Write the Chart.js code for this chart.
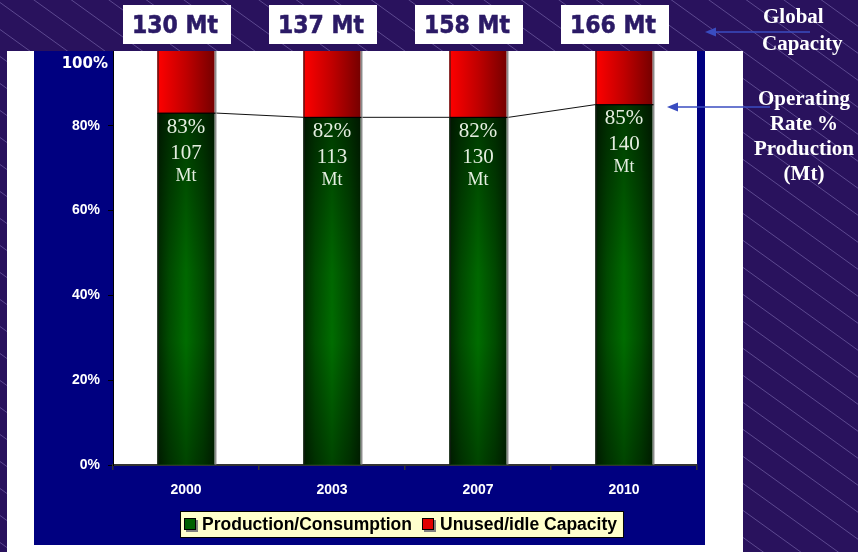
<!DOCTYPE html>
<html>
<head>
<meta charset="utf-8">
<script src="https://cdn.jsdelivr.net/npm/chart.js@4.4.1/dist/chart.umd.min.js"></script>
<style>
  html, body { margin: 0; padding: 0; background: #29125d; }
  canvas { display: block; }
</style>
</head>
<body>
<canvas id="chart" width="858" height="552"></canvas>
<script>
// Global aluminium capacity, production and operating rate by year
const years = ['2000', '2003', '2007', '2010'];
const capacityMt = [130, 137, 158, 166];      // global capacity (Mt)
const productionMt = [107, 113, 130, 140];    // production / consumption (Mt)
const operatingRate = [83, 82, 82, 85];       // operating rate (%)
const idleRate = operatingRate.map(r => 100 - r); // unused / idle share (%)
const seriesNames = ['Production/Consumption', 'Unused/idle Capacity'];

const PURPLE = '#29125d';
const NAVY = '#000080';

function paintStripes(ctx, x, y, w, h) {
  ctx.save();
  ctx.beginPath();
  ctx.rect(x, y, w, h);
  ctx.clip();
  ctx.fillStyle = PURPLE;
  ctx.fillRect(x, y, w, h);
  ctx.strokeStyle = 'rgba(165,150,215,0.42)';
  ctx.lineWidth = 1;
  const slope = 0.72, gap = 27;
  for (let c = -700; c < 600; c += gap) {
    ctx.beginPath();
    ctx.moveTo(0, c + 0.5);
    ctx.lineTo(858, c + 858 * slope + 0.5);
    ctx.stroke();
  }
  ctx.restore();
}

function arrowLeft(ctx, xTail, xHead, y) {
  ctx.save();
  ctx.strokeStyle = '#3a4cc0';
  ctx.fillStyle = '#3a4cc0';
  ctx.lineWidth = 1.5;
  ctx.beginPath();
  ctx.moveTo(xTail, y);
  ctx.lineTo(xHead + 8, y);
  ctx.stroke();
  ctx.beginPath();
  ctx.moveTo(xHead, y);
  ctx.lineTo(xHead + 11, y - 4.5);
  ctx.lineTo(xHead + 11, y + 4.5);
  ctx.closePath();
  ctx.fill();
  ctx.restore();
}

const decor = {
  id: 'decor',
  beforeDraw(chart) {
    const ctx = chart.ctx;
    const a = chart.chartArea;
    paintStripes(ctx, 0, 0, 858, 552);
    // slide panel and chart panel
    ctx.fillStyle = '#ffffff';
    ctx.fillRect(7, 51, 736, 501);
    ctx.fillStyle = NAVY;
    ctx.fillRect(34, 51, 671, 494);
    // plot area
    ctx.fillStyle = '#ffffff';
    ctx.fillRect(a.left, a.top, a.right - a.left, a.bottom - a.top);
  },
  afterDatasetsDraw(chart) {
    const ctx = chart.ctx;
    const green = chart.getDatasetMeta(0).data;
    const red = chart.getDatasetMeta(1).data;
    ctx.save();
    green.forEach((el, i) => {
      const g = el.getProps(['x', 'y', 'base', 'width'], true);
      const r = red[i].getProps(['x', 'y', 'base', 'width'], true);
      const x0 = g.x - g.width / 2, x1 = g.x + g.width / 2;
      // green body: bright centre, dark edges
      const hg = ctx.createLinearGradient(x0, 0, x1, 0);
      hg.addColorStop(0, '#002e00');
      hg.addColorStop(0.2, '#005200');
      hg.addColorStop(0.5, '#007600');
      hg.addColorStop(0.8, '#005200');
      hg.addColorStop(1, '#003000');
      ctx.fillStyle = hg;
      ctx.fillRect(x0, g.y, g.width, g.base - g.y);
      const vg = ctx.createLinearGradient(0, g.y, 0, g.base);
      vg.addColorStop(0, 'rgba(0,0,0,0.5)');
      vg.addColorStop(0.45, 'rgba(0,0,0,0.12)');
      vg.addColorStop(0.65, 'rgba(0,0,0,0.08)');
      vg.addColorStop(1, 'rgba(0,0,0,0.42)');
      ctx.fillStyle = vg;
      ctx.fillRect(x0, g.y, g.width, g.base - g.y);
      // red cap: bright left, dark right
      const rg = ctx.createLinearGradient(x0, 0, x1, 0);
      rg.addColorStop(0, '#ff0000');
      rg.addColorStop(0.5, '#c00000');
      rg.addColorStop(1, '#760000');
      ctx.fillStyle = rg;
      ctx.fillRect(x0, r.y, r.width, r.base - r.y);
      // edges
      ctx.fillStyle = '#1c1c1c';
      ctx.fillRect(x0, r.y, 1, g.base - r.y);
      ctx.fillStyle = '#8c8c8c';
      ctx.fillRect(x1, r.y, 2, g.base - r.y);
      ctx.fillStyle = '#000000';
      ctx.fillRect(x0, g.y - 0.5, g.width + 1, 1.2);
      // value labels inside the green part
      ctx.fillStyle = '#e4eee0';
      ctx.textAlign = 'center';
      ctx.textBaseline = 'middle';
      ctx.font = '21px "Liberation Serif"';
      ctx.fillText(operatingRate[i] + '%', g.x, g.y + 14);
      ctx.fillText(String(productionMt[i]), g.x, g.y + 40);
      ctx.font = '18px "Liberation Serif"';
      ctx.fillText('Mt', g.x, g.y + 63);
    });
    // series lines joining the tops of the production segments
    ctx.strokeStyle = '#111';
    ctx.lineWidth = 1;
    ctx.beginPath();
    for (let i = 0; i < green.length - 1; i++) {
      const a = green[i].getProps(['x', 'y', 'width'], true);
      const b = green[i + 1].getProps(['x', 'y', 'width'], true);
      ctx.moveTo(a.x + a.width / 2 + 2, a.y);
      ctx.lineTo(b.x - b.width / 2, b.y);
    }
    ctx.stroke();
    ctx.restore();
    // title band across the top
    paintStripes(ctx, 0, 0, 858, 51);
  },
  afterDraw(chart) {
    const ctx = chart.ctx;
    const ys = chart.scales.y;
    const green = chart.getDatasetMeta(0).data;
    ctx.save();
    // global capacity boxes above each bar
    green.forEach((el, i) => {
      const cx = el.x - 9;
      ctx.fillStyle = '#ffffff';
      ctx.fillRect(cx - 54, 5, 108, 39);
      const label = capacityMt[i] + ' Mt';
      ctx.font = 'bold 25px "DejaVu Sans"';
      const w = ctx.measureText(label).width;
      const sx = Math.min(1, 86 / w);
      ctx.save();
      ctx.translate(cx - 2, 25);
      ctx.scale(sx, 1);
      ctx.fillStyle = '#2b1a66';
      ctx.strokeStyle = '#2b1a66';
      ctx.lineWidth = 0.6;
      ctx.textAlign = 'center';
      ctx.textBaseline = 'middle';
      ctx.fillText(label, 0, 1);
      ctx.strokeText(label, 0, 1);
      ctx.restore();
    });
    // 100% label sits just below the top band
    ctx.fillStyle = '#ffffff';
    ctx.font = 'bold 15px "DejaVu Sans"';
    ctx.textAlign = 'right';
    ctx.textBaseline = 'middle';
    ctx.fillText('100%', 108, ys.getPixelForValue(100) + 23);

    // annotations on the right
    ctx.fillStyle = '#ffffff';
    ctx.font = 'bold 21px "Liberation Serif"';
    ctx.textAlign = 'left';
    ctx.fillText('Global', 763, 18);
    ctx.fillText('Capacity', 762, 45);
    ctx.textAlign = 'center';
    ['Operating', 'Rate %', 'Production', '(Mt)'].forEach((t, k) => {
      ctx.fillText(t, 804, 100 + k * 25);
    });
    arrowLeft(ctx, 810, 705, 32);
    arrowLeft(ctx, 770, 667, 107);

    // legend
    ctx.font = 'bold 17.5px "Liberation Sans"';
    const colors = ['#006000', '#e00000'];
    const gapSq = 6, sq = 12, between = 10;
    const widths = seriesNames.map(n => sq + gapSq + ctx.measureText(n).width);
    const total = widths[0] + widths[1] + between + 11;
    const lx = 402 - total / 2, ly = 511;
    ctx.fillStyle = '#ffffcc';
    ctx.fillRect(lx, ly, total, 27);
    ctx.strokeStyle = '#000';
    ctx.lineWidth = 1;
    ctx.strokeRect(lx + 0.5, ly + 0.5, total - 1, 26);
    let px = lx + 4;
    seriesNames.forEach((n, k) => {
      ctx.fillStyle = '#808080';
      ctx.fillRect(px + 2, ly + 9, sq, sq);
      ctx.fillStyle = colors[k];
      ctx.fillRect(px, ly + 7, sq, sq);
      ctx.strokeStyle = '#000';
      ctx.strokeRect(px + 0.5, ly + 7.5, sq - 1, sq - 1);
      ctx.fillStyle = '#000';
      ctx.textAlign = 'left';
      ctx.textBaseline = 'middle';
      ctx.fillText(n, px + sq + gapSq, ly + 14);
      px += widths[k] + between;
    });
    ctx.restore();
  }
};

new Chart(document.getElementById('chart'), {
  type: 'bar',
  data: {
    labels: years,
    datasets: [
      { label: seriesNames[0], data: operatingRate, backgroundColor: '#006000',
        barPercentage: 0.39, categoryPercentage: 1 },
      { label: seriesNames[1], data: idleRate, backgroundColor: '#d00000',
        barPercentage: 0.39, categoryPercentage: 1 }
    ]
  },
  options: {
    responsive: false,
    animation: false,
    events: [],
    layout: { padding: { left: 53, right: 161, top: 41, bottom: 47 } },
    plugins: { legend: { display: false }, tooltip: { enabled: false } },
    scales: {
      x: {
        stacked: true,
        grid: { drawOnChartArea: false, offset: true, tickLength: 5, color: '#333', lineWidth: 1.5 },
        border: { color: '#333', width: 2 },
        ticks: { color: '#ffffff', font: { family: 'Liberation Sans', weight: 'bold', size: 14 }, padding: 12 },
        afterFit(s) { s.height = 40; }
      },
      y: {
        stacked: true,
        min: 0,
        max: 100,
        grid: { drawOnChartArea: false, tickLength: 5, color: '#000' },
        border: { color: '#000', width: 1 },
        ticks: {
          stepSize: 20,
          color: '#ffffff',
          font: { family: 'Liberation Sans', weight: 'bold', size: 14 },
          padding: 8,
          callback: v => (v === 100 ? '' : v + '%')
        },
        afterFit(s) { s.width = 60; }
      }
    }
  },
  plugins: [decor]
});
</script>
</body>
</html>
